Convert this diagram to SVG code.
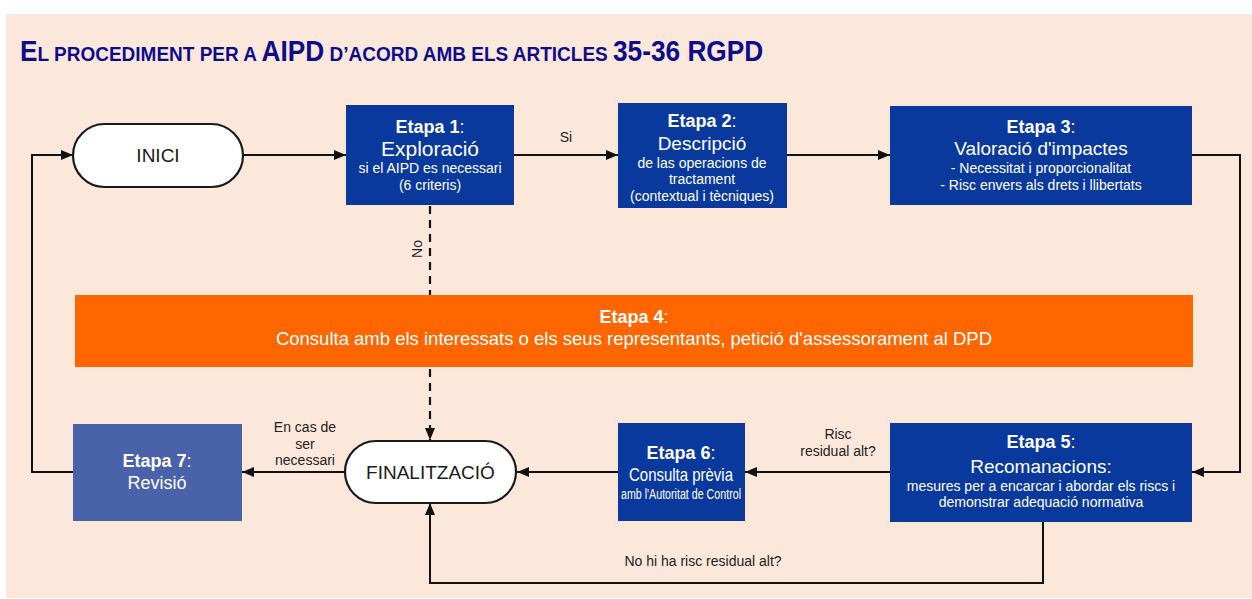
<svg xmlns="http://www.w3.org/2000/svg" width="1252" height="599" viewBox="0 0 1252 599">
<defs>
<style>
.bg{fill:#fce8da}
.blue{fill:#0a399e}
.blue7{fill:#4a62aa}
.orange{fill:#ff6600}
.pill{fill:#ffffff;stroke:#1a1a1a;stroke-width:2.2}
.w{font-family:"Liberation Sans",Arial,sans-serif;fill:#ffffff;text-anchor:middle}
.wt{font-size:18px}
.wb{font-weight:bold}
.wm{font-size:19px}
.ws{font-size:14px}
.lbl{font-family:"Liberation Sans",Arial,sans-serif;fill:#222222;font-size:14px;text-anchor:middle}
.pt{font-family:"Liberation Sans",Arial,sans-serif;fill:#1a1a1a;font-size:19px;text-anchor:middle}
.ln{fill:none;stroke:#111111;stroke-width:2}
.dash{fill:none;stroke:#111111;stroke-width:2.2;stroke-dasharray:8,6}
.title{font-family:"Liberation Sans",Arial,sans-serif;font-weight:bold;fill:#0d0d8c}
.tb{font-size:29px}
.ts{font-size:21px}
</style>
<marker id="arr" viewBox="0 0 12 10" refX="12" refY="5" markerWidth="12" markerHeight="10" markerUnits="userSpaceOnUse" orient="auto">
<path d="M0,0 L12,5 L0,10 z" fill="#111111"/>
</marker>
</defs>
<rect x="0" y="0" width="1252" height="599" fill="#ffffff"/>
<rect class="bg" x="6" y="14" width="1246" height="584"/>
<g id="title">
<text class="title" transform="translate(20,61) scale(0.905,1)" x="0" y="0"><tspan class="tb">E</tspan><tspan class="ts">L PROCEDIMENT PER A </tspan><tspan class="tb">AIPD</tspan><tspan class="ts"> D’ACORD AMB ELS ARTICLES </tspan><tspan class="tb">35-36 RGPD</tspan></text>
</g>

<g id="connectors">
<line class="ln" x1="243" y1="155" x2="346" y2="155" marker-end="url(#arr)"/>
<line class="ln" x1="514" y1="155" x2="618" y2="155" marker-end="url(#arr)"/>
<text class="lbl" x="566" y="142">Si</text>
<line class="ln" x1="787" y1="155" x2="890" y2="155" marker-end="url(#arr)"/>
<polyline class="ln" points="1192,155 1240,155 1240,472 1192,472" marker-end="url(#arr)"/>
<line class="dash" x1="430" y1="206" x2="430" y2="295"/>
<text class="lbl" transform="translate(422,249) rotate(-90)">No</text>
<line class="dash" x1="430" y1="369" x2="430" y2="440" marker-end="url(#arr)"/>
<line class="ln" x1="890" y1="472" x2="745" y2="472" marker-end="url(#arr)"/>
<text class="lbl" x="838" y="439">Risc</text>
<text class="lbl" x="838" y="456">residual alt?</text>
<line class="ln" x1="618" y1="472" x2="517" y2="472" marker-end="url(#arr)"/>
<line class="ln" x1="345" y1="472" x2="242" y2="472" marker-end="url(#arr)"/>
<text class="lbl" x="305" y="432">En cas de</text>
<text class="lbl" x="305" y="449">ser</text>
<text class="lbl" x="305" y="465">necessari</text>
<polyline class="ln" points="73,472 32,472 32,155 73,155" marker-end="url(#arr)"/>
<polyline class="ln" points="1043,522 1043,583 430,583 430,503" marker-end="url(#arr)"/>
<text class="lbl" x="703" y="566">No hi ha risc residual alt?</text>
</g>

<g id="inici">
<rect class="pill" x="73" y="124" width="170" height="63" rx="31.5"/>
<text class="pt" x="158" y="162">INICI</text>
</g>

<g id="etapa1">
<rect class="blue" x="346" y="105" width="168" height="100"/>
<text class="w wt" x="430" y="133"><tspan class="wb">Etapa 1</tspan>:</text>
<text class="w" font-size="21" x="430" y="156">Exploració</text>
<text class="w ws" x="430" y="173">si el AIPD es necessari</text>
<text class="w ws" x="430" y="190">(6 criteris)</text>
</g>

<g id="etapa2">
<rect class="blue" x="618" y="103" width="169" height="105"/>
<text class="w wt" x="702" y="127"><tspan class="wb">Etapa 2</tspan>:</text>
<text class="w wm" x="702" y="150">Descripció</text>
<text class="w ws" x="702" y="168">de las operacions de</text>
<text class="w ws" x="702" y="184">tractament</text>
<text class="w ws" x="702" y="201">(contextual i tècniques)</text>
</g>

<g id="etapa3">
<rect class="blue" x="890" y="106" width="302" height="99"/>
<text class="w wt" x="1041" y="133"><tspan class="wb">Etapa 3</tspan>:</text>
<text class="w wm" x="1041" y="155">Valoració d'impactes</text>
<text class="w ws" x="1041" y="173">- Necessitat i proporcionalitat</text>
<text class="w ws" x="1041" y="190">- Risc envers als drets i llibertats</text>
</g>

<g id="etapa4">
<rect class="orange" x="75" y="295" width="1118" height="72"/>
<text class="w wt" x="634" y="323"><tspan class="wb">Etapa 4</tspan>:</text>
<text class="w" font-size="18.5" x="634" y="345">Consulta amb els interessats o els seus representants, petició d'assessorament al DPD</text>
</g>

<g id="etapa5">
<rect class="blue" x="890" y="423" width="302" height="99"/>
<text class="w wt" x="1041" y="448"><tspan class="wb">Etapa 5</tspan>:</text>
<text class="w wm" x="1041" y="473">Recomanacions:</text>
<text class="w ws" x="1041" y="491">mesures per a encarcar i abordar els riscs i</text>
<text class="w ws" x="1041" y="507">demonstrar adequació normativa</text>
</g>

<g id="etapa6">
<rect class="blue" x="618" y="423" width="127" height="98"/>
<text class="w wt" x="681" y="459"><tspan class="wb">Etapa 6</tspan>:</text>
<text class="w wm" x="681" y="481" textLength="104" lengthAdjust="spacingAndGlyphs">Consulta prèvia</text>
<text class="w ws" x="681" y="499" textLength="120" lengthAdjust="spacingAndGlyphs">amb l'Autoritat de Control</text>
</g>

<g id="etapa7">
<rect class="blue7" x="73" y="424" width="169" height="97"/>
<text class="w wt" x="157" y="467"><tspan class="wb">Etapa 7</tspan>:</text>
<text class="w wt" x="157" y="489">Revisió</text>
</g>

<g id="finalitzacio">
<rect class="pill" x="345" y="441" width="171" height="62" rx="31"/>
<text class="pt" x="430.5" y="479">FINALITZACIÓ</text>
</g>
</svg>
